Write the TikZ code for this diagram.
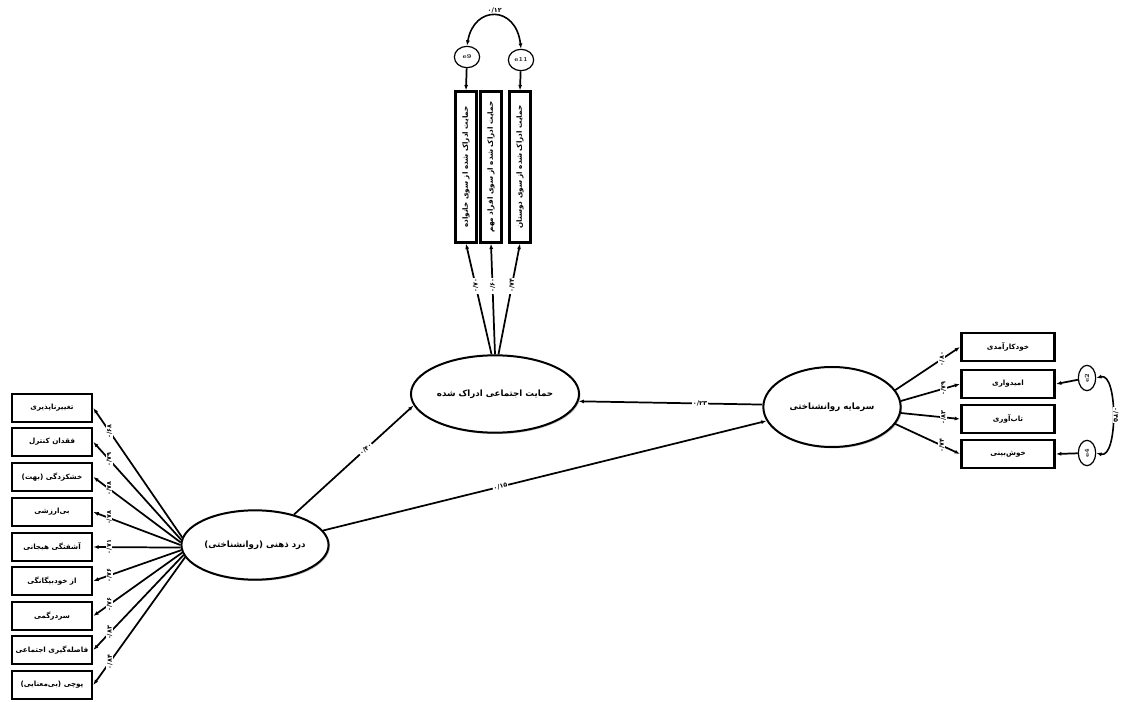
\documentclass[tikz,border=0pt]{standalone}
\usepackage{fontspec}
\usetikzlibrary{shapes.geometric,shadows,arrows.meta}
\newfontfamily\fa[Script=Arabic]{DejaVu Sans}
\TeXXeTstate=1
\newcommand\fat[1]{\beginR #1\endR}
\begin{document}
\begin{tikzpicture}[x=0.75pt,y=-0.75pt,
  lat/.style={ellipse, draw, line width=1.5pt, fill=white, inner sep=1pt,
    drop shadow={shadow xshift=1pt, shadow yshift=-1pt, opacity=0.5},
    font=\fa\bfseries\fontsize{6.5}{8}\selectfont},
  obs/.style={rectangle, draw, line width=2pt, fill=white, inner sep=1pt,
    drop shadow={shadow xshift=1pt, shadow yshift=-1pt, opacity=0.5},
    font=\fa\bfseries\fontsize{5.4}{6}\selectfont},
  lobs/.style={obs, minimum width=60pt, minimum height=21pt},
  robs/.style={obs, minimum width=70pt, minimum height=21pt},
  vobs/.style={obs, minimum width=16pt, minimum height=113pt},
  err/.style={ellipse, draw, line width=0.9pt, fill=white, inner sep=0pt,
    font=\bfseries\fontsize{4.5}{5}\selectfont},
  pth/.style={line width=1.3pt, -{Latex[length=4pt,width=3pt]}},
  cov/.style={line width=1.2pt, {Latex[length=4pt,width=3pt]}-{Latex[length=4pt,width=3pt]}},
  lbl/.style={fill=white, inner sep=0.6pt, font=\fa\bfseries\fontsize{4.8}{5.5}\selectfont}
]
\useasboundingbox (0,0) rectangle (1122,702);

% latent variables
\node[lat, minimum width=105pt, minimum height=52pt] (D) at (255,545) {\fat{درد ذهنی (روانشناختی)}};
\node[lat, minimum width=105pt, minimum height=58pt] (S) at (495,394) {\fat{حمایت اجتماعی ادراک شده}};
\node[lat, minimum width=103pt, minimum height=60pt] (P) at (832,407) {\fat{سرمایه روانشناختی}};

% left indicators
\node[lobs] (a1) at (52,408) {\fat{تغییرناپذیری}};
\node[lobs] (a2) at (52,442) {\fat{فقدان کنترل}};
\node[lobs] (a3) at (52,477) {\fat{خشکزدگی (بهت)}};
\node[lobs] (a4) at (52,512) {\fat{بی‌ارزشی}};
\node[lobs] (a5) at (52,547) {\fat{آشفتگی هیجانی}};
\node[lobs] (a6) at (52,581) {\fat{از خودبیگانگی}};
\node[lobs] (a7) at (52,616) {\fat{سردرگمی}};
\node[lobs] (a8) at (52,650) {\fat{فاصله‌گیری اجتماعی}};
\node[lobs] (a9) at (52,685) {\fat{پوچی (بی‌معنایی)}};

% right indicators
\node[robs] (b1) at (1008,347) {\fat{خودکارآمدی}};
\node[robs] (b2) at (1008,384) {\fat{امیدواری}};
\node[robs] (b3) at (1008,419) {\fat{تاب‌آوری}};
\node[robs] (b4) at (1008,454) {\fat{خوش‌بینی}};

% top indicators
\node[vobs] (v1) at (466,167) {\rotatebox{90}{\fat{حمایت ادراک شده از سوی خانواده}}};
\node[vobs] (v2) at (491,167) {\rotatebox{90}{\fat{حمایت ادراک شده از سوی افراد مهم}}};
\node[vobs] (v3) at (520,167) {\rotatebox{90}{\fat{حمایت ادراک شده از سوی دوستان}}};

% errors
\node[err, minimum width=19pt, minimum height=16pt] (e9) at (467,57) {e9};
\node[err, minimum width=19pt, minimum height=16pt] (e11) at (521,60) {e11};
\node[err, minimum width=13pt, minimum height=19pt] (e2) at (1087,378) {\rotatebox{90}{e2}};
\node[err, minimum width=13pt, minimum height=19pt] (e4) at (1087,453) {\rotatebox{90}{e4}};

% left loadings
\draw[pth] (D.174) -- (a1.east) node[lbl, rotate=90, pos=0.82] {۰/۶۸};
\draw[pth] (D.176) -- (a2.east) node[lbl, rotate=90, pos=0.82] {۰/۷۹};
\draw[pth] (D.178) -- (a3.east) node[lbl, rotate=90, pos=0.82] {۰/۷۸};
\draw[pth] (D.180) -- (a4.east) node[lbl, rotate=90, pos=0.82] {۰/۷۸};
\draw[pth] (D.182) -- (a5.east) node[lbl, rotate=90, pos=0.82] {۰/۷۱};
\draw[pth] (D.184) -- (a6.east) node[lbl, rotate=90, pos=0.82] {۰/۷۶};
\draw[pth] (D.186) -- (a7.east) node[lbl, rotate=90, pos=0.82] {۰/۷۶};
\draw[pth] (D.188) -- (a8.east) node[lbl, rotate=90, pos=0.82] {۰/۸۳};
\draw[pth] (D.190) -- (a9.east) node[lbl, rotate=90, pos=0.82] {۰/۸۴};

% right loadings
\draw[pth] (P.15) -- (b1.west) node[lbl, rotate=90, pos=0.72] {۰/۸۰};
\draw[pth] (P.5) -- (b2.west) node[lbl, rotate=90, pos=0.72] {۰/۷۹};
\draw[pth] (P.-5) -- (b3.west) node[lbl, rotate=90, pos=0.72] {۰/۸۳};
\draw[pth] (P.-15) -- (b4.west) node[lbl, rotate=90, pos=0.72] {۰/۷۴};

% top loadings
\draw[pth] (S.95) -- (v1.south) node[lbl, rotate=90, pos=0.62] {۰/۷۰};
\draw[pth] (S.90) -- (v2.south) node[lbl, rotate=90, pos=0.62] {۰/۶۰};
\draw[pth] (S.85) -- (v3.south) node[lbl, rotate=90, pos=0.62] {۰/۷۴};

% error arrows
\draw[pth] (e9) -- (v1.north);
\draw[pth] (e11) -- (v3.north);
\draw[pth] (e2) -- (b2.east);
\draw[pth] (e4) -- (b4.east);

% covariances
\draw[cov] (e9.north) .. controls (474,5) and (516,5) .. (e11.north)
  node[lbl, pos=0.5, above=1pt] {۰/۱۲};
\draw[cov] (e2.east) .. controls (1118,372) and (1118,459) .. (e4.east);
\node[lbl, rotate=-90] (c24) at (1116,415) {۰/۴۵};

% structural paths
\draw[pth] (D.38) -- (S.188) node[lbl, sloped, pos=0.6] {۰/۴۰};
\draw[pth] (D.12) -- (P.192) node[lbl, sloped, pos=0.4] {۰/۱۵};
\draw[pth] (P.178) -- (S.-5) node[lbl, sloped, pos=0.34] {۰/۲۳};
\end{tikzpicture}
\end{document}
